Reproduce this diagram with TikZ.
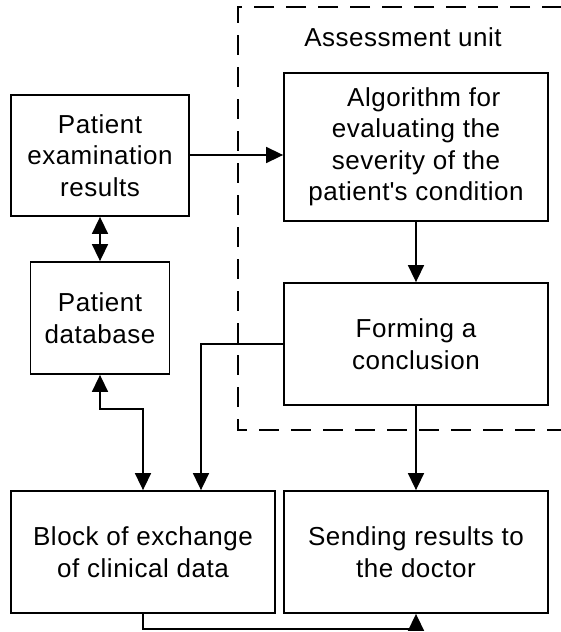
\documentclass[tikz,border=0pt]{standalone}
\usepackage{fontspec}
\setmainfont[LetterSpace=2]{Liberation Sans}
\usetikzlibrary{arrows.meta}
\begin{document}
\begin{tikzpicture}[x=1pt,y=-1pt,
  txt/.style={font=\fontsize{26}{31.5}\selectfont},
  box/.style={txt,draw,line width=1.8pt,rectangle,align=center,inner sep=2pt},
  tip/.tip={Triangle[length=17pt,width=16pt]},
  link/.style={line width=1.6pt,-tip},
  both/.style={line width=1.6pt,tip-tip},
  unit/.style={line width=1.8pt,dash pattern=on 20pt off 12pt}]
\useasboundingbox (0,0) rectangle (560,632);

% assessment unit frame (its right side runs off the page)
\draw[unit] (562,7) -- (238,7) -- (238,430) -- (562,430);
\node[txt] (unitlabel) at (403,37) {Assessment unit};

% blocks
\node[box,minimum width=178pt,minimum height=121pt] (exam) at (100,155.5)
  {Patient\\examination\\results};
\node[box,minimum width=264pt,minimum height=148pt] (algo) at (416,147)
  {\ \ Algorithm for\\evaluating the\\severity of the\\patient\textquotesingle s condition};
\node[box,minimum width=139pt,minimum height=112pt] (db) at (100,318)
  {Patient\\database};
\node[box,minimum width=264pt,minimum height=122pt] (form) at (416,344)
  {Forming a\\conclusion};
\node[box,minimum width=264pt,minimum height=122pt] (block) at (143,552)
  {Block of exchange\\of clinical data};
\node[box,minimum width=264pt,minimum height=122pt] (send) at (416,552)
  {Sending results to\\the doctor};

\coordinate (blockin) at ([xshift=58pt]block.north);

% connectors
\draw[link] (exam.east |- 0,155) -- (algo.west |- 0,155);
\draw[both] (exam.south) -- (db.north);
\draw[link] (algo.south) -- (form.north);
\draw[link] (form.west) -| (blockin);
\draw[both] (db.south) -- ++(0,34) -| (block.north);
\draw[link] (form.south) -- (send.north);
\draw[link] (block.south) -- ++(0,15) -| (send.south);
\end{tikzpicture}
\end{document}
